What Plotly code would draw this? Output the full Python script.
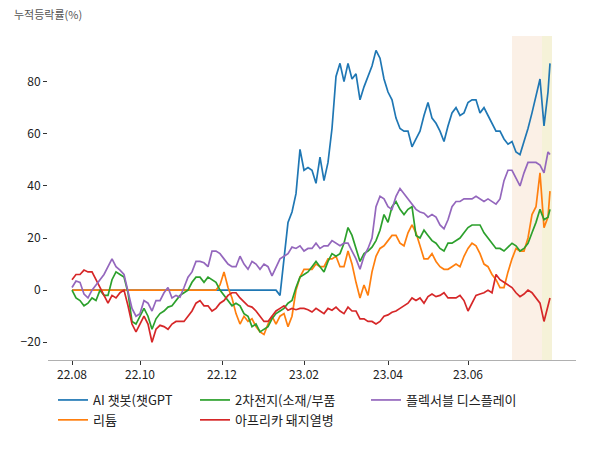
import plotly.graph_objects as go

# trading-day index of each sampled point (every 2nd trading day, plus the last day)
trade_idx = list(range(0, 240, 2)) + [239]

tick_pos = [0, 34, 75, 116, 158, 198]
tick_labels = ["22.08", "22.10", "22.12", "23.02", "23.04", "23.06"]

ai_chatbot = [0] * 52 + [
    -2, 12, 26, 30, 37, 54, 46, 47,
    46, 41, 51, 42, 49, 62, 82, 87, 80, 87,
    81, 83, 73, 78, 82, 86, 92, 89, 81, 76,
    73, 66, 62, 61, 61, 55, 58, 61, 67, 72,
    66, 64, 61, 57, 63, 68, 70, 67, 68, 72,
    73, 73, 68, 70, 67, 64, 61, 61, 58, 56,
    57, 53, 52, 57, 62, 68, 74, 81, 63, 76,
    87]

lithium = [0] * 37 + [
    2, 7, 1,
    -3, -9, -13, -10, -12, -11, -14, -16, -17, -13,
    -10, -13, -10, -9, -14, -10, 0, 5, 8, 8,
    8, 10, 9, 9, 12, 12, 13, 9, 9, 15,
    10, 3, -3, 2, -2, 7, 13, 16, 17, 19,
    21, 21, 18, 17, 22, 25, 22, 17, 12, 12,
    14, 11, 9, 8, 8, 9, 10, 9, 13, 16,
    18, 17, 14, 10, 9, 6, 4, 1, 1, 7,
    12, 16, 15, 15, 20, 29, 32, 45, 24, 28,
    38]

battery = [
    0, -3, -4, -6, -5, -3, -4, 0, -2, -2,
    4, 7, 6, 5, -1, -12, -13, -10, -7, -10,
    -15, -11, -9, -8, -6.5, -6, -4, -2, -1, 0,
    3, 5, 5, 3, 5, 4, 3, 0, -2, -4,
    -6, -5, -6, -9, -10, -14, -13, -16, -15, -14,
    -11, -9, -8, -7, -5, -4, 1, 5, 6, 7,
    9, 11, 9, 7, 11, 14, 13, 14, 18, 24,
    21, 16, 11, 14, 15, 16.5, 19, 23, 29, 26,
    32, 34, 31, 29, 31, 32, 21, 20, 23, 21,
    19, 18, 16, 15, 18, 18, 19, 20, 22, 24,
    25, 25, 25, 22, 20, 18, 16, 16, 15, 16.5,
    18, 17, 15, 16, 18, 22, 26, 31, 27, 28,
    31]

swine_fever = [
    4, 6, 6, 7.7, 7, 7, 4, 1, -2, -5,
    -2, -3, -1, 0, -6, -13, -16, -13, -10, -13,
    -20, -15, -13.5, -14, -15, -13, -12, -12, -12, -10,
    -8, -5, -4, -6, -6, -8, -7, -5, -4, -2,
    -1, -1, -3, -4.5, -6, -6.5, -8, -10, -12, -12,
    -10, -8, -7, -6, -7.7, -7, -7.5, -7, -7, -7.5,
    -8.4, -7, -8, -9, -7, -7.7, -6.5, -8, -9, -6.5,
    -8, -8, -11, -11, -12, -12, -13, -12, -10, -9.5,
    -8.5, -8, -7, -6, -5, -3, -4, -3, -5, -2.5,
    -1.5, -2.5, -2, -1, -3, -3, -3, -2, -4, -8,
    -5, -2, -1.5, -1, 0, -1, 6, 4, 3, 2,
    1, -1, -2.5, -1.5, 0, -1, -3, -5, -12, -6,
    -3]

flexible = [
    1, 3.5, 3, -1.5, -3, 0, 2, 4, 6, 9,
    12, 9, 7.7, 6, -1, -7, -10, -9, -4, -5,
    -8, -4, -4, -1, 1, -3, -2, -2.7, 1, 5,
    7, 11, 11, 10.5, 9, 15, 15, 14, 12, 10,
    9, 9, 13, 10, 8, 11, 10, 8, 10, 9,
    5.5, 9, 12, 13, 14, 16.5, 16, 17, 15, 16,
    16, 18, 16, 17, 17, 19, 18, 17, 18, 18,
    15, 12, 8, 13, 16, 20, 32, 36, 35, 32,
    31, 36, 39, 37, 35, 33, 31, 30, 29.5, 28,
    29, 28, 25, 23.5, 27, 32, 34, 34, 35, 35,
    35, 36, 35, 34, 35, 34, 33, 35, 42, 46,
    46, 43, 40, 45, 49, 49, 49, 48, 45, 53,
    52]

series_names = ["AI 챗봇(챗GPT", "리튬", "2차전지(소재/부품", "아프리카 돼지열병", "플렉서블 디스플레이"]
series_values = [ai_chatbot, lithium, battery, swine_fever, flexible]
series_colors = ["#1f77b4", "#ff7f0e", "#2ca02c", "#d62728", "#9467bd"]
series_legend = ["legend", "legend", "legend2", "legend2", "legend3"]

span1 = [220, 235]
span2 = [235, 240]

FONT = "Noto Sans CJK KR"

fig = go.Figure()
for name, vals, col, lg in zip(series_names, series_values, series_colors, series_legend):
    fig.add_trace(go.Scatter(x=trade_idx, y=vals, mode="lines", name=name,
                             line=dict(color=col, width=1.7), legend=lg))

fig.add_vrect(x0=span1[0], x1=span1[1], fillcolor="#fbf0e6", line_width=0, layer="below")
fig.add_vrect(x0=span2[0], x1=span2[1], fillcolor="#f5f2d8", line_width=0, layer="below")

legend_common = dict(orientation="v", xref="container", yref="container",
                     yanchor="top", xanchor="left", bgcolor="rgba(0,0,0,0)",
                     font=dict(family=FONT, size=13, color="#222"), tracegroupgap=0)

fig.update_layout(
    width=600, height=450,
    margin=dict(l=48, r=24, t=36, b=90, autoexpand=False),
    paper_bgcolor="white", plot_bgcolor="white",
    font=dict(family=FONT, size=12, color="#222"),
    legend=dict(x=53 / 600, y=1 - 385 / 450, **legend_common),
    legend2=dict(x=195 / 600, y=1 - 385 / 450, **legend_common),
    legend3=dict(x=366 / 600, y=1 - 385 / 450, **legend_common),
    xaxis=dict(range=[-12, 252], tickmode="array", tickvals=tick_pos, ticktext=tick_labels,
               showgrid=False, zeroline=False, showline=True, linecolor="#b0b0b0", linewidth=1,
               ticks="outside", ticklen=4, tickcolor="#333", tickfont=dict(size=12, color="#222")),
    yaxis=dict(range=[-26.8, 97.5], tickmode="array", tickvals=[-20, 0, 20, 40, 60, 80],
               showgrid=False, zeroline=False, showline=False,
               ticks="outside", ticklen=4, tickcolor="#333", tickfont=dict(size=12, color="#222")),
    annotations=[dict(text="누적등락률(%)", xref="paper", yref="paper", x=-36 / 528, y=1 + 22 / 324,
                      xanchor="left", yanchor="middle", showarrow=False,
                      font=dict(family=FONT, size=11, color="#555"))],
)

fig.write_html("out.html")
